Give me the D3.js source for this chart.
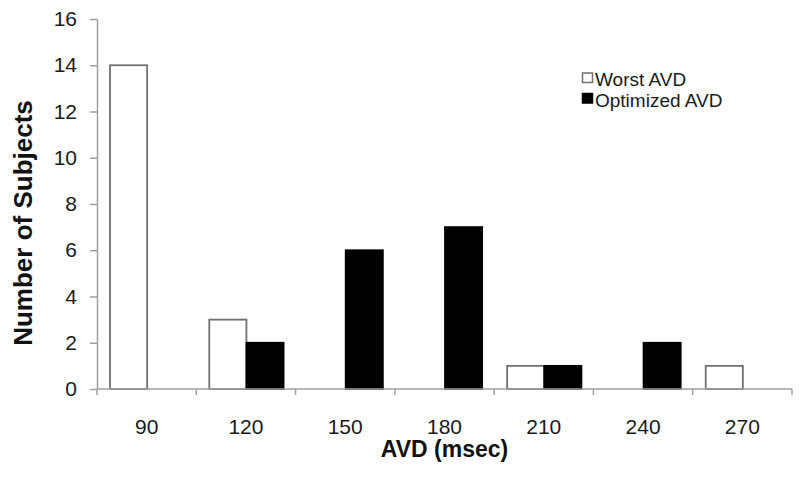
<!DOCTYPE html>
<html>
<head>
<meta charset="utf-8">
<script src="https://cdn.jsdelivr.net/npm/d3@7"></script>
<style>
  body { margin: 0; background: #fff; }
  svg { display: block; font-family: "Liberation Sans", Arial, sans-serif; }
</style>
</head>
<body>
<svg id="chart" width="800" height="483"></svg>
<script>
const categories = ["90", "120", "150", "180", "210", "240", "270"];
const seriesNames = ["Worst AVD", "Optimized AVD"];
const worstAVD = [14, 3, 0, 0, 1, 0, 1];
const optimizedAVD = [0, 2, 6, 7, 1, 2, 0];
const yTicks = [0, 2, 4, 6, 8, 10, 12, 14, 16];
const xTitle = "AVD (msec)";
const yTitle = "Number of Subjects";

(function () {
const seriesValues = [worstAVD, optimizedAVD];
const fills = ["#ffffff", "#000000"];
const strokes = ["#707070", "#000000"];

const svg = d3.select("#chart");
const mLeft = 97, mRight = 792, mTop = 19, mBottom = 389;

const x = d3.scaleBand().domain(categories).range([mLeft, mRight]).padding(0);
const bw = x.bandwidth();
const x1 = d3.scaleBand().domain(seriesNames).range([13, bw - 12]).padding(0);
const y = d3.scaleLinear().domain([0, 16]).range([mBottom, mTop]);

// bars
seriesNames.forEach((s, si) => {
  svg.append("g").selectAll("rect")
    .data(categories.map((c, i) => ({ c, v: seriesValues[si][i] })).filter(d => d.v > 0))
    .join("rect")
    .attr("x", d => x(d.c) + x1(s))
    .attr("y", d => y(d.v))
    .attr("width", x1.bandwidth())
    .attr("height", d => y(0) - y(d.v))
    .attr("fill", fills[si])
    .attr("stroke", strokes[si])
    .attr("stroke-width", 1.8);
});

// y axis
const yAxis = d3.axisLeft(y).tickValues(yTicks).tickSize(7).tickPadding(13).tickSizeOuter(0);
const gy = svg.append("g").attr("transform", `translate(${mLeft},0)`).call(yAxis);
gy.select(".domain").attr("stroke", "#a0a0a0").attr("stroke-width", 1.5);
gy.selectAll(".tick line").attr("stroke", "#a0a0a0").attr("stroke-width", 1.5);
gy.selectAll(".tick text").attr("font-size", 21).attr("fill", "#1a1a1a")
  .attr("font-family", "Liberation Sans, Arial, sans-serif");

// x axis line
const gx = svg.append("g").attr("transform", `translate(0,${mBottom})`);
gx.append("line").attr("x1", mLeft).attr("x2", mRight).attr("y1", 0).attr("y2", 0)
  .attr("stroke", "#a0a0a0").attr("stroke-width", 1.5);
const boundaries = categories.map(c => x(c)).concat([x(categories[categories.length - 1]) + bw]);
gx.selectAll("line.tk").data(boundaries).join("line").attr("class", "tk")
  .attr("x1", d => d).attr("x2", d => d).attr("y1", 0).attr("y2", 6)
  .attr("stroke", "#a0a0a0").attr("stroke-width", 1.5);
gx.selectAll("text").data(categories).join("text")
  .attr("x", d => x(d) + bw / 2).attr("y", 45)
  .attr("text-anchor", "middle").attr("font-size", 21).attr("fill", "#1a1a1a")
  .text(d => d);

// titles
svg.append("text").attr("x", (mLeft + mRight) / 2).attr("y", 457)
  .attr("text-anchor", "middle").attr("font-size", 23).attr("font-weight", "bold")
  .attr("fill", "#111").text(xTitle);
svg.append("text").attr("transform", "translate(32,223) rotate(-90)")
  .attr("text-anchor", "middle").attr("font-size", 26).attr("font-weight", "bold")
  .attr("fill", "#111").text(yTitle);

// legend
const lg = svg.append("g");
seriesNames.forEach((s, i) => {
  const yy = 86 + i * 20.5;
  lg.append("rect").attr("x", 582.5).attr("y", yy - 13).attr("width", 10).attr("height", 9.5)
    .attr("fill", fills[i]).attr("stroke", strokes[i]).attr("stroke-width", 1.5);
  lg.append("text").attr("x", 595).attr("y", yy).attr("font-size", 19)
    .attr("fill", "#1a1a1a").text(s);
});
})();
</script>
</body>
</html>
